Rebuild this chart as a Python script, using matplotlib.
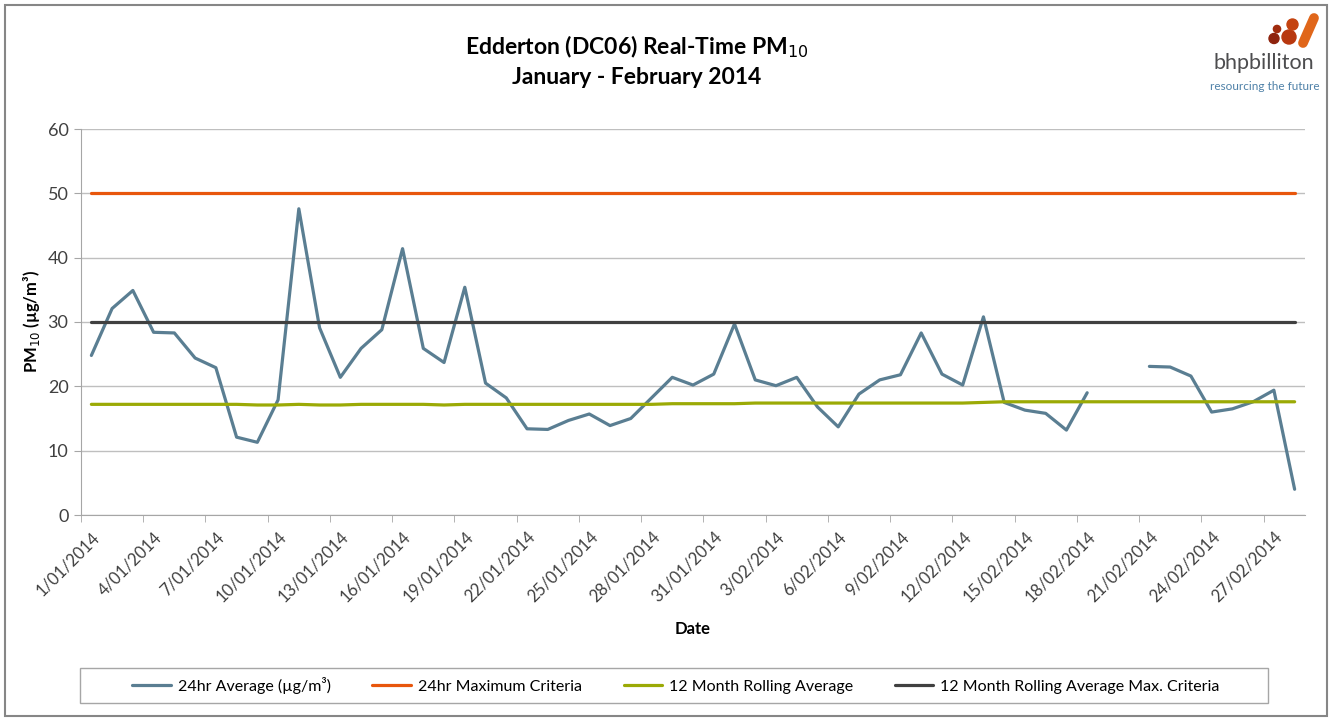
import numpy as np
import pandas as pd
import matplotlib
matplotlib.use("Agg")
import matplotlib.pyplot as plt
import matplotlib.transforms as mtransforms
from matplotlib.patches import Rectangle, Circle

plt.rcParams['font.family'] = ['Lato', 'DejaVu Sans']

# daily categories, 1 Jan - 28 Feb 2014
dates = pd.date_range("2014-01-01", "2014-02-28", freq="D")
date_labels = [f"{d.day}/{d.month:02d}/{d.year}" for d in dates]

# 24hr average PM10 (ug/m3), nan = no data
pm10 = [24.8, 32.1, 34.9, 28.4, 28.3, 24.4, 22.9, 12.1, 11.3, 17.9,
        47.6, 29.1, 21.4, 25.9, 28.8, 41.4, 25.9, 23.7, 35.4, 20.5,
        18.2, 13.4, 13.3, 14.7, 15.7, 13.9, 15.0, 18.2, 21.4, 20.2,
        21.9, 29.7, 21.0, 20.1, 21.4, 16.8, 13.7, 18.8, 21.0, 21.8,
        28.3, 21.9, 20.2, 30.8, 17.5, 16.3, 15.8, 13.2, 19.0, np.nan,
        np.nan, 23.1, 23.0, 21.6, 16.0, 16.5, 17.6, 19.4, 4.0]

# 12 month rolling average
rolling_avg = [17.2, 17.2, 17.2, 17.2, 17.2, 17.2, 17.2, 17.2, 17.1, 17.1,
               17.2, 17.1, 17.1, 17.2, 17.2, 17.2, 17.2, 17.1, 17.2, 17.2,
               17.2, 17.2, 17.2, 17.2, 17.2, 17.2, 17.2, 17.2, 17.3, 17.3,
               17.3, 17.3, 17.4, 17.4, 17.4, 17.4, 17.4, 17.4, 17.4, 17.4,
               17.4, 17.4, 17.4, 17.5, 17.6, 17.6, 17.6, 17.6, 17.6, 17.6,
               17.6, 17.6, 17.6, 17.6, 17.6, 17.6, 17.6, 17.6, 17.6]

max_24hr = [50] * len(dates)
max_rolling = [30] * len(dates)

labels = ["24hr Average (µg/m³)", "24hr Maximum Criteria",
          "12 Month Rolling Average", "12 Month Rolling Average Max. Criteria"]
colors = ["#5A7E92", "#E8560C", "#9BAA05", "#404040"]

W, H = 1330, 720
fig = plt.figure(figsize=(W / 100, H / 100), dpi=100)
ax = fig.add_axes([81 / W, 1 - 515 / H, (1305 - 81) / W, (515 - 129) / H])

x = np.arange(len(dates))
for ys, lab, c in zip([pm10, max_24hr, rolling_avg, max_rolling], labels, colors):
    ax.plot(x, ys, color=c, lw=2.3, label=lab, solid_capstyle='round')

ax.set_xlim(-0.5, len(dates) - 0.5)
ax.set_ylim(0, 60)
ax.set_yticks(range(0, 61, 10))
ax.yaxis.grid(True, color='#BFBFBF', lw=1)
ax.set_axisbelow(True)
for s in ['top', 'right']:
    ax.spines[s].set_visible(False)
for s in ['left', 'bottom']:
    ax.spines[s].set_color('#A6A6A6')
ax.tick_params(axis='y', length=5, color='#A6A6A6', labelsize=13,
               labelcolor='#404040', pad=4)

ax.set_xticks(x[::3])
ax.set_xticklabels(date_labels[::3], rotation=45, ha='right',
                   rotation_mode='anchor', fontsize=12, color='#404040')
# nudge the rotated date labels a little to the right
shift = mtransforms.ScaledTranslation(5 / 100, 0, fig.dpi_scale_trans)
for t in ax.get_xticklabels():
    t.set_transform(t.get_transform() + shift)
ax.set_xticks(np.arange(-0.5, len(dates) - 0.5, 3), minor=True)
ax.tick_params(axis='x', which='major', length=0, pad=10)
ax.tick_params(axis='x', which='minor', length=5, color='#A6A6A6')

ax.set_xlabel("Date", fontsize=12, fontweight='bold', labelpad=11)
ax.set_ylabel("PM$_{10}$ (µg/m³)", fontsize=12, fontweight='bold', labelpad=4)

fig.text(637 / W, 1 - 47 / H, "Edderton (DC06) Real-Time PM$_{10}$",
         ha='center', va='center', fontsize=16.5, fontweight='bold')
fig.text(637 / W, 1 - 77 / H, "January - February 2014",
         ha='center', va='center', fontsize=16.5, fontweight='bold')

# legend box drawn separately, entries centred inside it
fig.patches.append(Rectangle((80 / W, 1 - 703 / H), 1188 / W, 35 / H,
                             fill=False, edgecolor='#A6A6A6', lw=1,
                             transform=fig.transFigure, figure=fig))
fig.legend(loc='center', ncol=4, bbox_to_anchor=(676 / W, 1 - 685.5 / H),
           fontsize=11.5, frameon=False, handlelength=2.4,
           handletextpad=0.45, columnspacing=2.6)

# outer chart border
fig.patches.append(Rectangle((5 / W, 4 / H), 1322 / W, 711 / H, fill=False,
                             edgecolor='#868686', lw=1.5,
                             transform=fig.transFigure, figure=fig))

# company logo
lg = fig.add_axes([1262 / W, 1 - 50 / H, 60 / W, 40 / H])
lg.set_xlim(1262, 1322)
lg.set_ylim(50, 10)
lg.axis('off')
for (cx, cy, r, c) in [(1274, 38.5, 5, '#8E230D'), (1277, 29, 3.6, '#A02C0E'),
                       (1289, 37, 7, '#B8380F'), (1292.5, 24.5, 5.5, '#C4420F')]:
    lg.add_patch(Circle((cx, cy), r, color=c))
lg.plot([1303, 1314], [43, 18], color='#E0661A', lw=7, solid_capstyle='round')

fig.text(1264 / W, 1 - 63 / H, "bhpbilliton", ha='center', va='center',
         fontsize=15.5, color='#4D4D4F')
fig.text(1265 / W, 1 - 86 / H, "resourcing the future", ha='center',
         va='center', fontsize=8.5, color='#4F81A8')

fig.savefig("out.png", dpi=100)
